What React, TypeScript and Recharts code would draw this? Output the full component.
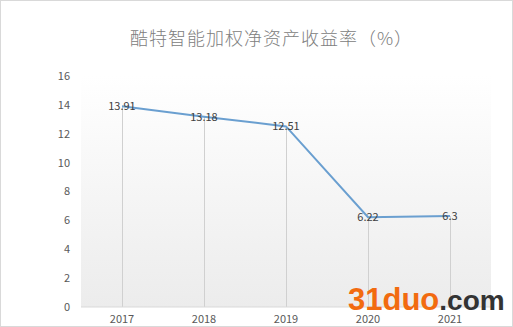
import { ComposedChart, Line, Bar, XAxis, YAxis, CartesianGrid, LabelList } from 'recharts';

const years = ['2017', '2018', '2019', '2020', '2021'];
const roe = [13.91, 13.18, 12.51, 6.22, 6.3];
const yTicks = [0, 2, 4, 6, 8, 10, 12, 14, 16];

const data = years.map((year, i) => ({ year, roe: roe[i] }));

const font = '"Microsoft YaHei", "Noto Sans CJK SC", "Noto Sans", sans-serif';

export default function App() {
  return (
    <div
      style={{
        position: 'absolute',
        left: 0,
        top: 0,
        width: 513,
        height: 327,
        background: '#fff',
        fontFamily: font,
        overflow: 'hidden',
      }}
    >
      <div
        style={{
          position: 'absolute',
          inset: 0,
          border: '1px solid #d9d9d9',
          boxSizing: 'border-box',
          pointerEvents: 'none',
          zIndex: 3,
        }}
      />
      <div
        style={{
          position: 'absolute',
          top: 24,
          left: 0,
          width: 543,
          textAlign: 'center',
          fontSize: 18,
          color: '#808080',
          letterSpacing: 1,
          fontWeight: 300,
        }}
      >
        酷特智能加权净资产收益率（%）
      </div>
      <ComposedChart
        width={513}
        height={327}
        data={data}
        margin={{ top: 76, right: 22, bottom: 0, left: 0 }}
      >
        <defs>
          <linearGradient id="plotBg" x1="0" y1="0" x2="0" y2="1">
            <stop offset="0%" stopColor="#ffffff" />
            <stop offset="100%" stopColor="#ececec" />
          </linearGradient>
        </defs>
        <CartesianGrid horizontal={false} vertical={false} fill="url(#plotBg)" />
        <XAxis
          dataKey="year"
          height={20}
          tickLine={false}
          tickSize={0}
          tickMargin={8}
          axisLine={{ stroke: '#d9d9d9' }}
          tick={{ fill: '#595959', fontSize: 11, fontFamily: font }}
        />
        <YAxis
          width={81}
          domain={[0, 16]}
          ticks={yTicks}
          axisLine={false}
          tickLine={false}
          tickSize={0}
          tickMargin={11}
          tick={{ fill: '#595959', fontSize: 11, fontFamily: font }}
        />
        <Bar dataKey="roe" barSize={1} fill="#d0d0d0" isAnimationActive={false} />
        <Line
          dataKey="roe"
          stroke="#6a9fd0"
          strokeWidth={2}
          dot={false}
          isAnimationActive={false}
        >
          <LabelList
            dataKey="roe"
            position="center"
            fill="#404040"
            fontSize={11}
            fontFamily={font}
          />
        </Line>
      </ComposedChart>
      <div
        style={{
          position: 'absolute',
          left: 348,
          top: 284,
          fontFamily: 'Arial, "Liberation Sans", sans-serif',
          fontWeight: 'bold',
          whiteSpace: 'nowrap',
          lineHeight: 1,
          zIndex: 2,
        }}
      >
        <span style={{ color: '#f26b10', fontSize: 31 }}>31duo</span>
        <span style={{ color: '#333333', fontSize: 28 }}>.com</span>
      </div>
    </div>
  );
}
